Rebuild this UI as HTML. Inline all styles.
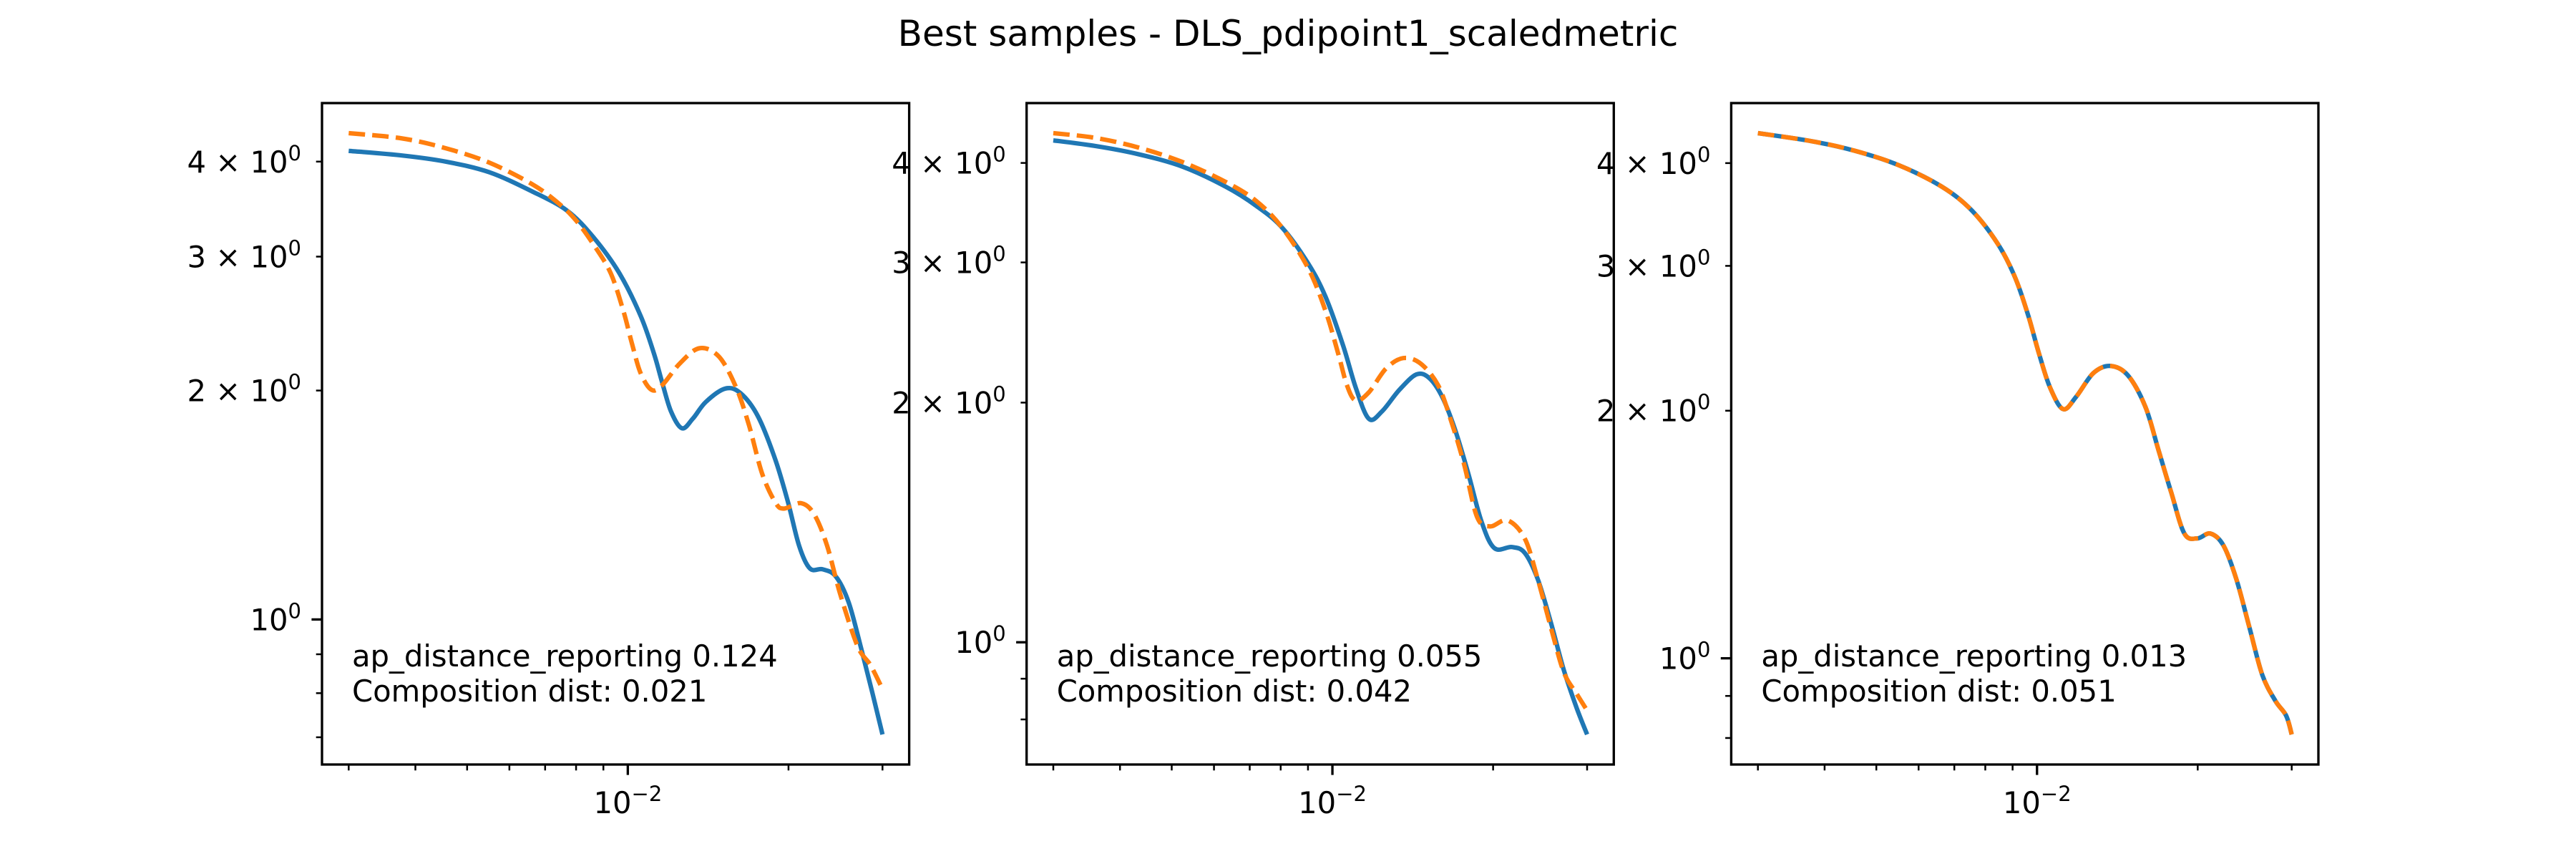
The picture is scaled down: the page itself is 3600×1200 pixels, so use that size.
<!DOCTYPE html>
<html><head><meta charset="utf-8"><style>
html,body{margin:0;padding:0;background:#fff;}
svg{display:block;font-family:"DejaVu Sans","Liberation Sans",sans-serif;}
</style></head><body>
<svg id="fig" width="3600" height="1200" viewBox="0 0 3600 1200" xmlns="http://www.w3.org/2000/svg">
<rect x="0" y="0" width="3600" height="1200" fill="#fff"/>
<text x="1800" y="64" text-anchor="middle" font-size="50" fill="#000">Best samples - DLS_pdipoint1_scaledmetric</text>
</svg>
<script>
// Panel 1 data
const q1Blue = [0.003,0.003785,0.00456,0.0055,0.00662,0.00769,0.00861,0.00963,0.01057,0.0112,0.0116,0.01205,0.01263,0.01324,0.0140,0.01523,0.01626,0.01753,0.01889,0.01996,0.02093,0.02193,0.02318,0.02453,0.02594,0.02743,0.02874,0.03];
const i1Blue = [4.133,4.074,4.00,3.873,3.655,3.449,3.185,2.857,2.507,2.234,2.048,1.877,1.784,1.837,1.932,2.012,1.984,1.850,1.624,1.426,1.251,1.167,1.164,1.139,1.052,0.910,0.799,0.706];
const q1Orange = [0.003,0.003785,0.00456,0.0055,0.00662,0.00742,0.00799,0.00861,0.00928,0.00981,0.01019,0.01057,0.01108,0.0116,0.01251,0.01361,0.01481,0.01596,0.01688,0.01785,0.01889,0.0196,0.02113,0.02234,0.02362,0.02497,0.02693,0.02848,0.03];
const i1Orange = [4.36,4.29,4.165,3.988,3.736,3.525,3.35,3.117,2.857,2.545,2.30,2.108,2.004,2.033,2.17,2.273,2.217,2.018,1.797,1.555,1.426,1.399,1.422,1.375,1.251,1.083,0.923,0.871,0.810];
// Panel 2 data
const q2Blue = [0.003,0.003604,0.004345,0.005238,0.006315,0.0072,0.008046,0.009004,0.00971,0.01046,0.01106,0.0117,0.01238,0.01334,0.01437,0.0152,0.01607,0.017,0.01798,0.01902,0.02011,0.02168,0.02293,0.02425,0.02565,0.02713,0.0287,0.03];
const i2Blue = [4.27,4.20,4.10,3.957,3.734,3.533,3.319,2.992,2.716,2.365,2.088,1.909,1.949,2.074,2.170,2.146,2.031,1.844,1.627,1.418,1.313,1.317,1.295,1.20,1.060,0.923,0.826,0.766];
const q2Orange = [0.003,0.003604,0.004345,0.005238,0.006315,0.0072,0.008046,0.009004,0.00971,0.01026,0.01065,0.01106,0.0117,0.0126,0.01358,0.01464,0.01578,0.01669,0.01765,0.01866,0.01974,0.02128,0.02293,0.02425,0.02565,0.02713,0.0287,0.03];
const i2Orange = [4.36,4.30,4.18,4.01,3.785,3.583,3.319,2.951,2.606,2.30,2.102,2.012,2.060,2.207,2.275,2.238,2.102,1.896,1.673,1.437,1.398,1.423,1.350,1.20,1.045,0.917,0.861,0.821];
// Panel 3 data
const q3Blue = [0.003,0.003785,0.00456,0.0055,0.00663,0.00755,0.00845,0.0091,0.00963,0.01009,0.01058,0.01119,0.01183,0.01275,0.01374,0.01481,0.01596,0.01688,0.01785,0.01888,0.01997,0.02112,0.02234,0.02362,0.02498,0.02642,0.02795,0.02928,0.03];
const i3Blue = [4.35,4.253,4.14,3.978,3.745,3.503,3.188,2.903,2.609,2.344,2.134,2.009,2.078,2.222,2.267,2.207,2.022,1.793,1.589,1.418,1.399,1.418,1.372,1.249,1.092,0.955,0.888,0.852,0.808];
const q3Orange = q3Blue.slice();
const i3Orange = [4.35,4.253,4.14,3.978,3.745,3.503,3.188,2.903,2.609,2.344,2.134,2.009,2.078,2.222,2.267,2.207,2.022,1.793,1.589,1.418,1.399,1.418,1.372,1.249,1.092,0.955,0.888,0.852,0.808];
const apDist = ["0.124","0.055","0.013"];
const compDist = ["0.021","0.042","0.051"];
const xMajorTicks = [0.01];
const xMinorTicks = [0.003,0.004,0.005,0.006,0.007,0.008,0.009,0.02,0.03];

const NS = "http://www.w3.org/2000/svg";
const svg = document.getElementById('fig');
const panels = [
  {left:450, qb:q1Blue, ib:i1Blue, qo:q1Orange, io:i1Orange},
  {left:1434.7, qb:q2Blue, ib:i2Blue, qo:q2Orange, io:i2Orange},
  {left:2419.4, qb:q3Blue, ib:i3Blue, qo:q3Orange, io:i3Orange}
];
const W = 820.6, TOP = 144, BOT = 1068;
const FS = 41.7;

function mk(tag, attrs, parent){
  const e = document.createElementNS(NS, tag);
  for (const k in attrs) e.setAttribute(k, attrs[k]);
  (parent||svg).appendChild(e);
  return e;
}
function smoothPath(pts){
  let d = "M" + pts[0][0].toFixed(1) + "," + pts[0][1].toFixed(1);
  for (let i=0;i<pts.length-1;i++){
    const p0 = pts[Math.max(0,i-1)], p1 = pts[i], p2 = pts[i+1], p3 = pts[Math.min(pts.length-1,i+2)];
    const c1x = p1[0]+(p2[0]-p0[0])/6, c1y = p1[1]+(p2[1]-p0[1])/6;
    const c2x = p2[0]-(p3[0]-p1[0])/6, c2y = p2[1]-(p3[1]-p1[1])/6;
    d += " C"+c1x.toFixed(1)+","+c1y.toFixed(1)+" "+c2x.toFixed(1)+","+c2y.toFixed(1)+" "+p2[0].toFixed(1)+","+p2[1].toFixed(1);
  }
  return d;
}
function supText(parent, x, y, anchor, pre, base, sup, name){
  const t = mk('text', {x:x, y:y, 'text-anchor':anchor, 'font-size':FS, fill:'#000'}, parent);
  
  
  const a = mk('tspan', {}, t); a.textContent = pre + base;
  const b = mk('tspan', {dy:-17, 'font-size':29}, t); b.textContent = sup;
  return t;
}

panels.forEach((p, idx) => {
  const g = mk('g', {});
  
  
  const allQ = p.qb.concat(p.qo), allI = p.ib.concat(p.io);
  const lx0 = Math.log10(Math.min(...allQ)), lx1 = Math.log10(Math.max(...allQ));
  const mx = (lx1-lx0)*0.05;
  const xs = v => p.left + (Math.log10(v) - (lx0-mx)) / ((lx1-lx0)+2*mx) * W;
  const ly0 = Math.log10(Math.min(...allI)), ly1 = Math.log10(Math.max(...allI));
  const my = (ly1-ly0)*0.05;
  const ylo = ly0-my, yhi = ly1+my;
  const ys = v => BOT - (Math.log10(v) - ylo) / (yhi-ylo) * (BOT-TOP);

  const bp = mk('path', {d:smoothPath(p.qb.map((q,i)=>[xs(q), ys(p.ib[i])])), fill:'none', stroke:'#1f77b4', 'stroke-width':6.25, 'stroke-linejoin':'round'}, g);
  
  
  const op = mk('path', {d:smoothPath(p.qo.map((q,i)=>[xs(q), ys(p.io[i])])), fill:'none', stroke:'#ff7f0e', 'stroke-width':6.25, 'stroke-dasharray':'23 10'}, g);
  
  

  const fr = mk('rect', {x:p.left, y:TOP, width:W, height:BOT-TOP, fill:'none', stroke:'#000', 'stroke-width':3.33}, g);
  
  

  xMajorTicks.forEach(v => {
    const x = xs(v);
    mk('line', {x1:x, x2:x, y1:BOT, y2:BOT+14.6, stroke:'#000', 'stroke-width':3.33}, g);
    supText(g, x, BOT+68, 'middle', '', '10', '\u22122', 'x-tick-label');
  });
  xMinorTicks.forEach(v => {
    const x = xs(v);
    mk('line', {x1:x, x2:x, y1:BOT, y2:BOT+8.3, stroke:'#000', 'stroke-width':2.5}, g);
  });
  for (let n=-1;n<=0;n++){
    for (let k=1;k<=9;k++){
      const v = k*Math.pow(10,n);
      const lv = Math.log10(v);
      if (lv < ylo || lv > yhi) continue;
      const y = ys(v);
      const major = (k===1);
      mk('line', {x1:p.left, x2:p.left-(major?14.6:8.3), y1:y, y2:y, stroke:'#000', 'stroke-width':major?3.33:2.5}, g);
      if (n===0 && k===1) supText(g, p.left-29, y+15, 'end', '', '10', '0', 'y-tick-label');
      else if (n===0 && k>=2 && k<=4) supText(g, p.left-29, y+15, 'end', k+' \u00d7 ', '10', '0', 'y-tick-label');
    }
  }
  const t1 = mk('text', {x:p.left+42, y:931, 'font-size':FS, fill:'#000'}, g);
  
  
  t1.textContent = 'ap_distance_reporting ' + apDist[idx];
  const t2 = mk('text', {x:p.left+42, y:980, 'font-size':FS, fill:'#000'}, g);
  
  
  t2.textContent = 'Composition dist: ' + compDist[idx];
});
</script>
</body></html>
